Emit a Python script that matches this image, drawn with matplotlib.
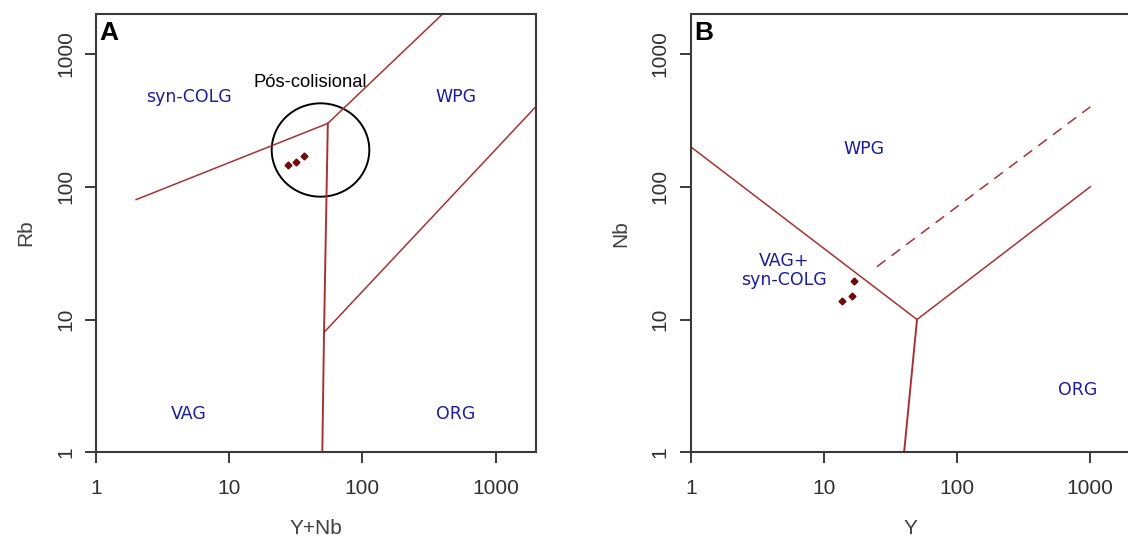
import matplotlib
matplotlib.use("Agg")
import matplotlib.pyplot as plt
from matplotlib.patches import Ellipse

plt.rcParams['font.family'] = ['Liberation Sans', 'DejaVu Sans']

# Panel A: Rb vs Y+Nb (Pearce et al. 1984)
a_line1_x = [2, 55, 400]
a_line1_y = [80, 300, 2000]
a_line2_x = [55, 51.5, 50]
a_line2_y = [300, 8, 1]
a_line3_x = [51.5, 2000]
a_line3_y = [8, 400]
a_samples_x = [27.8, 31.8, 36.7]
a_samples_y = [147, 153, 169]

# Panel B: Nb vs Y
b_line1_x = [1, 50, 1000]
b_line1_y = [200, 10, 100]
b_line2_x = [50, 40]
b_line2_y = [10, 1]
b_dash_x = [25, 1000]
b_dash_y = [25, 400]
b_samples_x = [13.7, 16.3, 16.9]
b_samples_y = [13.7, 15.0, 19.4]

ticks = [1, 10, 100, 1000]
tick_labels = ['1', '10', '100', '1000']

line_col = '#a83232'
pt_col = '#6e0a0a'
txt_col = '#1c1c9c'
ax_col = '#3a3a3a'

fig = plt.figure(figsize=(11.28, 5.43), dpi=100)
W, H = 1128, 543
axA = fig.add_axes([96 / W, (H - 452.3) / H, 439.7 / W, 438.3 / H])
axB = fig.add_axes([690.7 / W, (H - 452.3) / H, 439.7 / W, 438.3 / H])


def style(ax, xlabel, ylabel, letter):
    ax.set_xscale('log')
    ax.set_yscale('log')
    ax.set_xlim(1, 2000)
    ax.set_ylim(1, 2000)
    ax.set_xticks(ticks)
    ax.set_xticklabels(tick_labels)
    ax.set_yticks(ticks)
    ax.set_yticklabels(tick_labels)
    ax.minorticks_off()
    ax.tick_params(axis='both', direction='out', length=8, width=1.4,
                   color=ax_col, labelcolor='#303030', labelsize=15)
    ax.tick_params(axis='x', pad=11)
    ax.tick_params(axis='y', pad=7, labelrotation=90)
    for lab in ax.get_yticklabels():
        lab.set_va('center')
    for s in ax.spines.values():
        s.set_color(ax_col)
        s.set_linewidth(1.5)
    ax.set_xlabel(xlabel, fontsize=15, color='#404040', labelpad=15)
    ax.set_ylabel(ylabel, fontsize=15, color='#404040', labelpad=15)
    ax.text(0.008, 0.985, letter, transform=ax.transAxes, ha='left', va='top',
            fontsize=19, fontweight='bold', color='black')


# Panel A
style(axA, 'Y+Nb', 'Rb', 'A')
axA.plot(a_line1_x, a_line1_y, color=line_col, lw=1.1)
axA.plot(a_line2_x, a_line2_y, color=line_col, lw=1.4)
axA.plot(a_line3_x, a_line3_y, color=line_col, lw=1.1)
axA.plot(a_samples_x, a_samples_y, 'D', color=pt_col, ms=3.5, ls='none')
axA.add_patch(Ellipse((0.5106, 0.6897), 0.222, 0.213, transform=axA.transAxes,
                      fill=False, edgecolor='black', lw=1.4))
axA.text(40.5, 608, 'Pós-colisional', ha='center', va='center', fontsize=13.2, color='black')
lab_kw = dict(ha='center', va='center', fontsize=12.5, color=txt_col, family='DejaVu Sans')
axA.text(5, 478, 'syn-COLG', **lab_kw)
axA.text(500, 478, 'WPG', **lab_kw)
axA.text(5, 1.94, 'VAG', **lab_kw)
axA.text(500, 1.94, 'ORG', **lab_kw)

# Panel B
style(axB, 'Y', 'Nb', 'B')
axB.plot(b_line1_x, b_line1_y, color=line_col, lw=1.1)
axB.plot(b_line2_x, b_line2_y, color=line_col, lw=1.4)
axB.plot(b_dash_x, b_dash_y, color=line_col, lw=1.1, ls=(0, (7, 5)))
axB.plot(b_samples_x, b_samples_y, 'D', color=pt_col, ms=3.5, ls='none')
axB.text(20, 194, 'WPG', **lab_kw)
axB.text(5, 23.5, 'VAG+\nsyn-COLG', linespacing=1.05, **lab_kw)
axB.text(800, 2.94, 'ORG', **lab_kw)

fig.savefig('out.png', dpi=100)
